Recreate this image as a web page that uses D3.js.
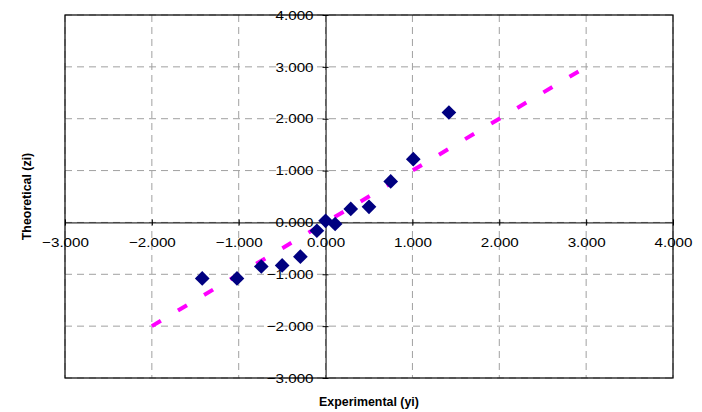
<!DOCTYPE html>
<html><head><meta charset="utf-8">
<script src="https://cdn.jsdelivr.net/npm/d3@7"></script>
<style>body{margin:0;background:#fff}svg{display:block}text{font-family:"Liberation Sans",Arial,sans-serif}</style>
</head><body><svg id="c" width="702" height="412"></svg>
<script>
const expX = [-1.42, -1.02, -0.74, -0.50, -0.29, -0.10, 0.00, 0.11, 0.29, 0.50, 0.75, 1.01, 1.42];
const theoY = [-1.08, -1.08, -0.85, -0.83, -0.66, -0.16, 0.03, -0.03, 0.26, 0.30, 0.79, 1.22, 2.12];
const lineX = [-2, 3];
const lineY = [-2, 3];
const ticks = [-3, -2, -1, 0, 1, 2, 3, 4];
const xTitle = "Experimental (yi)";
const yTitle = "Theoretical (zi)";

const svg = d3.select("#c");
const L = 65, R = 673, T = 15, B = 378;
const x = d3.scaleLinear().domain([-3, 4]).range([L, R]);
const y = d3.scaleLinear().domain([-3, 4]).range([B, T]);
const fmt = d3.format(".3f");
const sx = 1.17;

// gridlines
const g = svg.append("g");
g.selectAll(".gx").data(ticks).join("line")
  .attr("x1", d => x(d)).attr("x2", d => x(d)).attr("y1", T).attr("y2", B)
  .attr("stroke", "#a0a0a0").attr("stroke-dasharray", "7,5").attr("stroke-width", 1);
g.selectAll(".gy").data(ticks).join("line")
  .attr("y1", d => y(d)).attr("y2", d => y(d)).attr("x1", L).attr("x2", R)
  .attr("stroke", "#a0a0a0").attr("stroke-dasharray", "7,5").attr("stroke-width", 1);

// plot border
svg.append("rect").attr("x", L).attr("y", T).attr("width", R - L).attr("height", B - T)
  .attr("fill", "none").attr("stroke", "#000").attr("stroke-width", 1.2);

// axes crossing at zero
const xAxis = d3.axisBottom(x).tickValues(ticks).tickFormat(fmt).tickSizeInner(3).tickSizeOuter(0);
const yAxis = d3.axisLeft(y).tickValues(ticks).tickFormat(fmt).tickSizeInner(3).tickSizeOuter(0);
const ax = svg.append("g").attr("transform", `translate(0,${y(0)})`).call(xAxis);
ax.selectAll(".tick line").attr("y1", -3).attr("y2", 3).attr("stroke", "#000");
ax.select(".domain").attr("stroke", "#000");
ax.selectAll(".tick text").attr("y", 15).attr("dy", "0.71em").attr("font-size", 13)
  .attr("transform", `scale(${sx},1)`)
  .attr("font-family", "Liberation Sans, Arial, sans-serif").attr("fill", "#000");
const ay = svg.append("g").attr("transform", `translate(${x(0)},0)`).call(yAxis);
ay.selectAll(".tick line").attr("x1", -3).attr("x2", 3).attr("stroke", "#000");
ay.select(".domain").attr("stroke", "#000");
ay.selectAll(".tick text").attr("x", -12 / sx).attr("font-size", 13)
  .attr("transform", `scale(${sx},1)`)
  .attr("font-family", "Liberation Sans, Arial, sans-serif").attr("fill", "#000");

// y = x reference line
svg.append("path")
  .datum(lineX.map((d, i) => [d, lineY[i]]))
  .attr("d", d3.line().x(d => x(d[0])).y(d => y(d[1])))
  .attr("fill", "none").attr("stroke", "#ff00ff").attr("stroke-width", 4)
  .attr("stroke-dasharray", "10.5,19.9");

// points
const sym = d3.symbol().type(d3.symbolSquare).size(108);
svg.append("g").selectAll("path").data(expX.map((d, i) => [d, theoY[i]])).join("path")
  .attr("d", sym)
  .attr("transform", d => `translate(${x(d[0])},${y(d[1])}) rotate(45)`)
  .attr("fill", "#000080");

// titles
svg.append("text").attr("x", (L + R) / 2).attr("y", 406).attr("text-anchor", "middle")
  .attr("font-size", 12.4).attr("font-weight", "bold").text(xTitle);
svg.append("text").attr("transform", `translate(31,${(T + B) / 2}) rotate(-90)`)
  .attr("text-anchor", "middle").attr("font-size", 12.4).attr("font-weight", "bold").text(yTitle);
</script></body></html>
